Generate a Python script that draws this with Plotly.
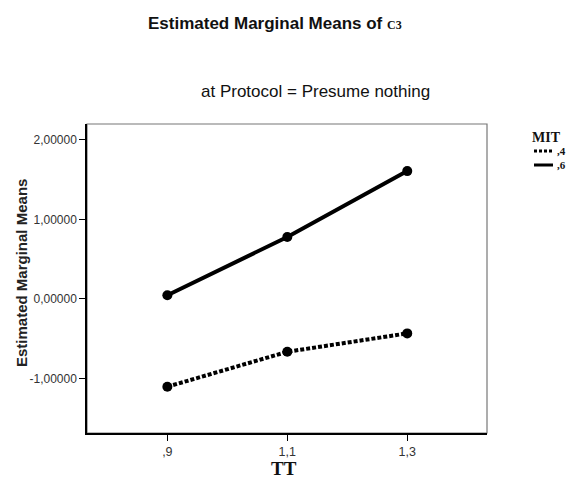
import plotly.graph_objects as go

# Estimated marginal means of C3 by TT, one line per MIT level
tt_values = [0.9, 1.1, 1.3]
tt_labels = [",9", "1,1", "1,3"]
mit_levels = [",4", ",6"]
means_mit_04 = [-1.104, -0.665, -0.434]
means_mit_06 = [0.046, 0.778, 1.606]
y_ticks = [-1.0, 0.0, 1.0, 2.0]
y_tick_labels = ["-1,00000", "0,00000", "1,00000", "2,00000"]

W, H = 585, 478
L, R, T, B = 87, 98, 124, 45
PW, PH = W - L - R, H - T - B


def px(x):
    return (x - L) / PW


def py(y):
    return (H - B - y) / PH


SANS = "Liberation Sans, Arial, sans-serif"
SERIF = "Liberation Serif, Times New Roman, serif"

fig = go.Figure()
fig.add_trace(go.Scatter(
    x=tt_values, y=means_mit_04, mode="lines+markers", name=mit_levels[0],
    line=dict(color="black", width=4, dash="4px,2px"),
    marker=dict(color="black", size=10), showlegend=False))
fig.add_trace(go.Scatter(
    x=tt_values, y=means_mit_06, mode="lines+markers", name=mit_levels[1],
    line=dict(color="black", width=4),
    marker=dict(color="black", size=10), showlegend=False))

fig.update_layout(
    width=W, height=H,
    margin=dict(l=L, r=R, t=T, b=B),
    paper_bgcolor="white", plot_bgcolor="white",
    font=dict(family=SANS, color="#222"),
    xaxis=dict(range=[0.766, 1.433], tickvals=tt_values, ticktext=tt_labels,
               ticks="outside", ticklen=6, tickwidth=1.2, tickcolor="black",
               showline=True, linecolor="black", linewidth=1.5,
               showgrid=False, zeroline=False, tickfont=dict(size=12.5, color="#333")),
    yaxis=dict(range=[-1.686, 2.198], tickvals=y_ticks, ticktext=y_tick_labels,
               ticks="outside", ticklen=6, tickwidth=1.2, tickcolor="black",
               showline=True, linecolor="black", linewidth=1.5,
               showgrid=False, zeroline=False, tickfont=dict(size=12, color="#333")),
)

# frame around the plot area (top and right edges lighter)
fig.add_shape(type="rect", xref="paper", yref="paper", x0=0, x1=1, y0=0, y1=1,
              line=dict(color="#777", width=1.2), layer="below")

ann = []
ann.append(dict(x=px(275), y=py(23), text="<b>Estimated Marginal Means of</b> "
                "<span style='font-family:Liberation Serif;font-size:12px'><b>C3</b></span>",
                font=dict(size=17, color="#111", family=SANS)))
ann.append(dict(x=px(315), y=py(91), text="at Protocol = Presume nothing",
                font=dict(size=17, color="#111", family=SANS)))
ann.append(dict(x=px(21), y=py(273), text="<b>Estimated Marginal Means</b>", textangle=-90,
                font=dict(size=15, color="#222", family=SANS)))
ann.append(dict(x=px(284), y=py(468), text="<b>TT</b>",
                font=dict(size=19, color="#111", family=SERIF)))
ann.append(dict(x=px(546), y=py(137), text="<b>MIT</b>",
                font=dict(size=14, color="#111", family=SERIF)))
leg_y = [151, 165]
ann.append(dict(x=px(555), y=py(sum(leg_y) / 2), xanchor="left",
                text="<b>" + "<br>".join(mit_levels) + "</b>", align="left",
                font=dict(size=11, color="#111", family=SERIF)))
for a in ann:
    a.setdefault("xanchor", "center")
    a.update(xref="paper", yref="paper", yanchor="middle", showarrow=False)
fig.update_layout(annotations=ann)

# legend samples
fig.add_shape(type="line", xref="paper", yref="paper", x0=px(534), x1=px(553),
              y0=py(leg_y[0]), y1=py(leg_y[0]), line=dict(color="black", width=3, dash="3px,2px"))
fig.add_shape(type="line", xref="paper", yref="paper", x0=px(534), x1=px(553),
              y0=py(leg_y[1]), y1=py(leg_y[1]), line=dict(color="black", width=3))

fig.write_html("out.html")
